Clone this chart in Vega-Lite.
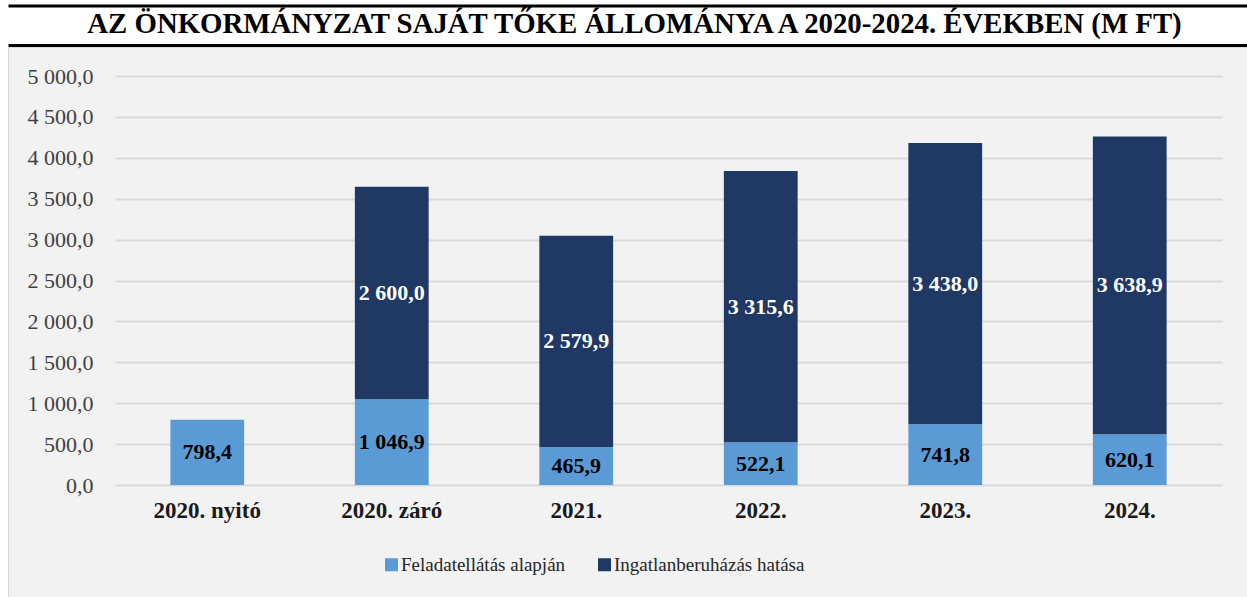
{
  "$schema": "https://vega.github.io/schema/vega-lite/v6.json",
  "width": 1239,
  "height": 550,
  "autosize": {"type": "none"},
  "padding": {"left": 8, "top": 47, "right": 0, "bottom": 0},
  "background": "white",
  "config": {
    "locale": {"number": {"decimal": ",", "thousands": " ", "grouping": [3], "currency": ["", ""]}},
    "font": "Liberation Serif",
    "view": {"fill": "#f2f2f2", "stroke": "#d9d9d9", "strokeWidth": 1}
  },
  "data": {
    "values": [
      {"category": "2020. nyitó", "series": "Feladatellátás alapján", "value": 798.4},
      {"category": "2020. záró", "series": "Feladatellátás alapján", "value": 1046.9},
      {"category": "2020. záró", "series": "Ingatlanberuházás hatása", "value": 2600.0},
      {"category": "2021.", "series": "Feladatellátás alapján", "value": 465.9},
      {"category": "2021.", "series": "Ingatlanberuházás hatása", "value": 2579.9},
      {"category": "2022.", "series": "Feladatellátás alapján", "value": 522.1},
      {"category": "2022.", "series": "Ingatlanberuházás hatása", "value": 3315.6},
      {"category": "2023.", "series": "Feladatellátás alapján", "value": 741.8},
      {"category": "2023.", "series": "Ingatlanberuházás hatása", "value": 3438.0},
      {"category": "2024.", "series": "Feladatellátás alapján", "value": 620.1},
      {"category": "2024.", "series": "Ingatlanberuházás hatása", "value": 3638.9}
    ]
  },
  "layer": [
    {
      "layer": [
        {
          "mark": {"type": "bar"},
          "encoding": {
            "x": {
              "field": "category", "type": "nominal", "sort": null,
              "scale": {"range": [107, 1214], "paddingInner": 0.6, "paddingOuter": 0.3},
              "axis": {"orient": "bottom", "offset": -112, "title": null, "labelAngle": 0, "labelFont": "Liberation Serif", "labelFontSize": 23, "labelFontWeight": "bold", "labelColor": "#1a1a1a", "labelPadding": 14, "ticks": false, "tickSize": 0, "domain": false, "grid": false}
            },
            "y": {
              "field": "value", "type": "quantitative", "stack": "zero",
              "scale": {"domain": [0, 5000], "range": [438, 29], "nice": false},
              "axis": {"orient": "left", "offset": -87, "title": null, "values": [0, 500, 1000, 1500, 2000, 2500, 3000, 3500, 4000, 4500, 5000], "format": ",.1f", "labelFont": "Liberation Serif", "labelFontSize": 22, "labelColor": "#404040", "labelPadding": 2, "ticks": false, "tickSize": 0, "domain": false, "grid": true, "gridColor": "#d9d9d9", "gridWidth": 2}
            },
            "color": {
              "field": "series", "type": "nominal",
              "scale": {"domain": ["Feladatellátás alapján", "Ingatlanberuházás hatása"], "range": ["#5b9bd5", "#203864"]},
              "legend": {"orient": "none", "legendX": 374, "legendY": 508, "direction": "horizontal", "title": null, "labelFont": "Liberation Serif", "labelFontSize": 19, "labelColor": "#262626", "labelLimit": 0, "symbolType": "square", "symbolSize": 169, "symbolStrokeWidth": 0, "labelOffset": 0, "columnPadding": 29}
            },
            "order": {"field": "series", "type": "ordinal", "sort": "ascending"}
          }
        },
        {
          "mark": {"type": "text", "font": "Liberation Serif", "fontSize": 22, "fontWeight": "bold", "baseline": "middle"},
          "encoding": {
            "x": {"field": "category", "type": "nominal", "sort": null},
            "y": {"field": "value", "type": "quantitative", "stack": "zero", "bandPosition": 0.5},
            "detail": {"field": "series"},
            "order": {"field": "series", "type": "ordinal", "sort": "ascending"},
            "text": {"field": "value", "type": "quantitative", "format": ",.1f"},
            "color": {"condition": {"test": "datum.series === 'Ingatlanberuházás hatása'", "value": "white"}, "value": "black"}
          }
        }
      ]
    },
    {
      "mark": {"type": "point", "opacity": 0},
      "encoding": {
        "x": {"datum": 0.5, "type": "quantitative", "scale": {"domain": [0, 1]},
          "axis": {"orient": "top", "offset": 2, "domain": true, "domainColor": "black", "domainWidth": 3, "labels": false, "ticks": false, "grid": false, "title": "AZ ÖNKORMÁNYZAT SAJÁT TŐKE ÁLLOMÁNYA A 2020-2024. ÉVEKBEN (M FT)", "titleFont": "Liberation Serif", "titleFontSize": 28.8, "titleFontWeight": "bold", "titleColor": "black", "titlePadding": 7, "titleX": 626, "titleAlign": "center"}}
      }
    },
    {
      "mark": {"type": "point", "opacity": 0},
      "encoding": {
        "x": {"datum": 0.5, "type": "quantitative", "scale": {"domain": [0, 1]},
          "axis": {"orient": "top", "offset": 41.5, "domain": true, "domainColor": "black", "domainWidth": 3, "labels": false, "ticks": false, "grid": false, "title": null}}
      }
    }
  ],
  "resolve": {"scale": {"x": "independent"}, "axis": {"y": "independent"}}
}
